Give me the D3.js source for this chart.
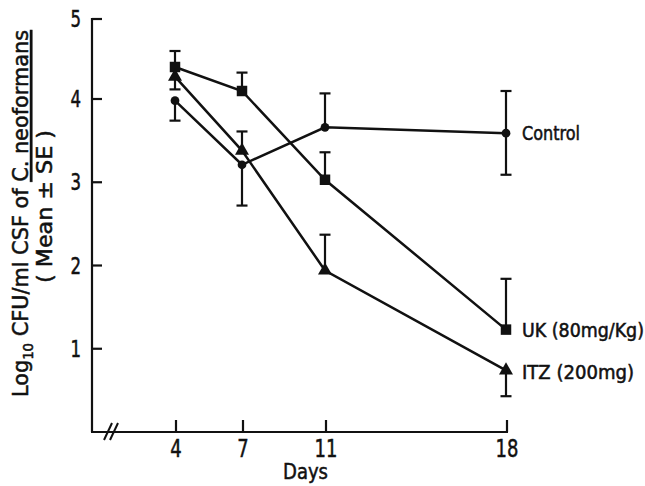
<!DOCTYPE html>
<html lang="en">
<head>
    <meta charset="UTF-8">
    <title>CFU in CSF by day</title>
    <script src="https://d3js.org/d3.v7.min.js"></script>
    <style>
        body { margin: 0; background: #fff; }
        svg text {
            font-family: "DejaVu Sans Condensed", "Liberation Sans", sans-serif;
            font-stretch: condensed;
            fill: #111;
            stroke: #111;
            stroke-width: 0.5px;
        }
    </style>
</head>
<body>
    <script>
        // values
        const days = [4, 7, 11, 18];
        const yTicks = [1, 2, 3, 4, 5];

        const controlMean = [3.98, 3.21, 3.66, 3.59];
        const controlLow  = [3.74, 2.72, null, 3.09];
        const controlHigh = [null, null, 4.07, 4.10];

        const ukMean = [4.40, 4.10, 3.03, 1.23];
        const ukLow  = [null, null, null, null];
        const ukHigh = [4.60, 4.33, 3.36, 1.84];

        const itzMean = [4.28, 3.38, 1.94, 0.74];
        const itzLow  = [4.12, null, null, 0.43];
        const itzHigh = [null, 3.61, 2.37, null];

        const seriesNames = ["Control", "UK (80mg/Kg)", "ITZ (200mg)"];

        const width = 645, height = 486;
        const svg = d3.select("body").append("svg")
            .attr("width", width)
            .attr("height", height);

        // the original axes are hand drawn, so the scales are piecewise
        const x = d3.scaleLinear().domain([4, 7, 11, 18]).range([175, 242, 325, 506]);
        const y = d3.scaleLinear().domain([0, 4, 5]).range([432, 99, 19]);
        const axisX = 92, axisRight = 507, baseY = 432;

        const ink = "#111";
        const squeeze = 0.8; // the printed lettering is narrower than any installed font

        // y axis
        svg.append("line")
            .attr("x1", axisX).attr("x2", axisX)
            .attr("y1", y(5) - 1).attr("y2", baseY)
            .attr("stroke", ink).attr("stroke-width", 2.2);

        svg.selectAll(".ytick").data(yTicks).enter().append("line")
            .attr("class", "ytick")
            .attr("x1", axisX).attr("x2", axisX + 10)
            .attr("y1", d => y(d)).attr("y2", d => y(d))
            .attr("stroke", ink).attr("stroke-width", 2.2);

        svg.selectAll(".ylab").data(yTicks).enter().append("text")
            .attr("class", "ylab")
            .attr("transform", d => `translate(${axisX - 11},${y(d) + 8}) scale(${squeeze},1)`)
            .attr("text-anchor", "end")
            .attr("font-size", 23)
            .text(d => d);

        // x axis
        svg.append("line")
            .attr("x1", axisX - 1).attr("x2", axisRight + 1)
            .attr("y1", baseY).attr("y2", baseY)
            .attr("stroke", ink).attr("stroke-width", 2.2);

        [104, 110].forEach(bx => {
            svg.append("line")
                .attr("x1", bx).attr("y1", baseY + 8)
                .attr("x2", bx + 8).attr("y2", baseY - 9)
                .attr("stroke", ink).attr("stroke-width", 2);
        });

        svg.selectAll(".xtick").data(days).enter().append("line")
            .attr("class", "xtick")
            .attr("x1", d => x(d) + 1).attr("x2", d => x(d) + 1)
            .attr("y1", baseY).attr("y2", baseY - 12)
            .attr("stroke", ink).attr("stroke-width", 2.2);

        svg.selectAll(".xlab").data(days).enter().append("text")
            .attr("class", "xlab")
            .attr("transform", d => `translate(${x(d) + 1},457) scale(${squeeze},1)`)
            .attr("text-anchor", "middle")
            .attr("font-size", 25)
            .text(d => d);

        svg.append("text")
            .attr("x", 283).attr("y", 479)
            .attr("font-size", 21)
            .attr("textLength", 45)
            .attr("lengthAdjust", "spacingAndGlyphs")
            .text("Days");

        // y title, two rotated lines
        const t1 = svg.append("text")
            .attr("transform", "translate(28,397) rotate(-90)")
            .attr("font-size", 22)
            .attr("textLength", 367)
            .attr("lengthAdjust", "spacingAndGlyphs");
        t1.append("tspan").text("Log");
        t1.append("tspan").attr("font-size", 14).attr("dy", 5).text("10");
        t1.append("tspan").attr("dy", -5).text(" CFU/ml CSF of ");
        t1.append("tspan").attr("text-decoration", "underline").text("C. neoformans");

        svg.append("text")
            .attr("transform", "translate(52,283) rotate(-90)")
            .attr("font-size", 22)
            .attr("textLength", 153)
            .attr("lengthAdjust", "spacingAndGlyphs")
            .text("( Mean \u00b1 SE )");

        // series
        const series = [
            { name: seriesNames[0], mean: controlMean, low: controlLow, high: controlHigh, shape: "circle", labelY: 140, labelW: 58 },
            { name: seriesNames[1], mean: ukMean, low: ukLow, high: ukHigh, shape: "square", labelY: 337, labelW: 122 },
            { name: seriesNames[2], mean: itzMean, low: itzLow, high: itzHigh, shape: "triangle", labelY: 379, labelW: 112 }
        ];

        const line = d3.line().x((d, i) => x(days[i])).y(d => y(d));

        series.forEach(s => {
            const g = svg.append("g");

            // error bars
            days.forEach((day, i) => {
                [s.low[i], s.high[i]].forEach(end => {
                    if (end == null) return;
                    g.append("line")
                        .attr("x1", x(day)).attr("x2", x(day))
                        .attr("y1", y(s.mean[i])).attr("y2", y(end))
                        .attr("stroke", ink).attr("stroke-width", 2.2);
                    g.append("line")
                        .attr("x1", x(day) - 5.5).attr("x2", x(day) + 5.5)
                        .attr("y1", y(end)).attr("y2", y(end))
                        .attr("stroke", ink).attr("stroke-width", 2.2);
                });
            });

            g.append("path")
                .datum(s.mean)
                .attr("d", line)
                .attr("fill", "none")
                .attr("stroke", ink)
                .attr("stroke-width", 2.5);

            const sym = s.shape === "circle" ? d3.symbolCircle
                : s.shape === "square" ? d3.symbolSquare : d3.symbolTriangle;
            const size = s.shape === "circle" ? 60 : s.shape === "square" ? 110 : 85;

            g.selectAll("path.pt").data(s.mean).enter().append("path")
                .attr("class", "pt")
                .attr("d", d3.symbol().type(sym).size(size))
                .attr("transform", (d, i) => `translate(${x(days[i])},${y(d)})`)
                .attr("fill", ink);

            svg.append("text")
                .attr("x", 522).attr("y", s.labelY)
                .attr("font-size", 19)
                .attr("textLength", s.labelW)
                .attr("lengthAdjust", "spacingAndGlyphs")
                .text(s.name);
        });
    </script>
</body>
</html>
